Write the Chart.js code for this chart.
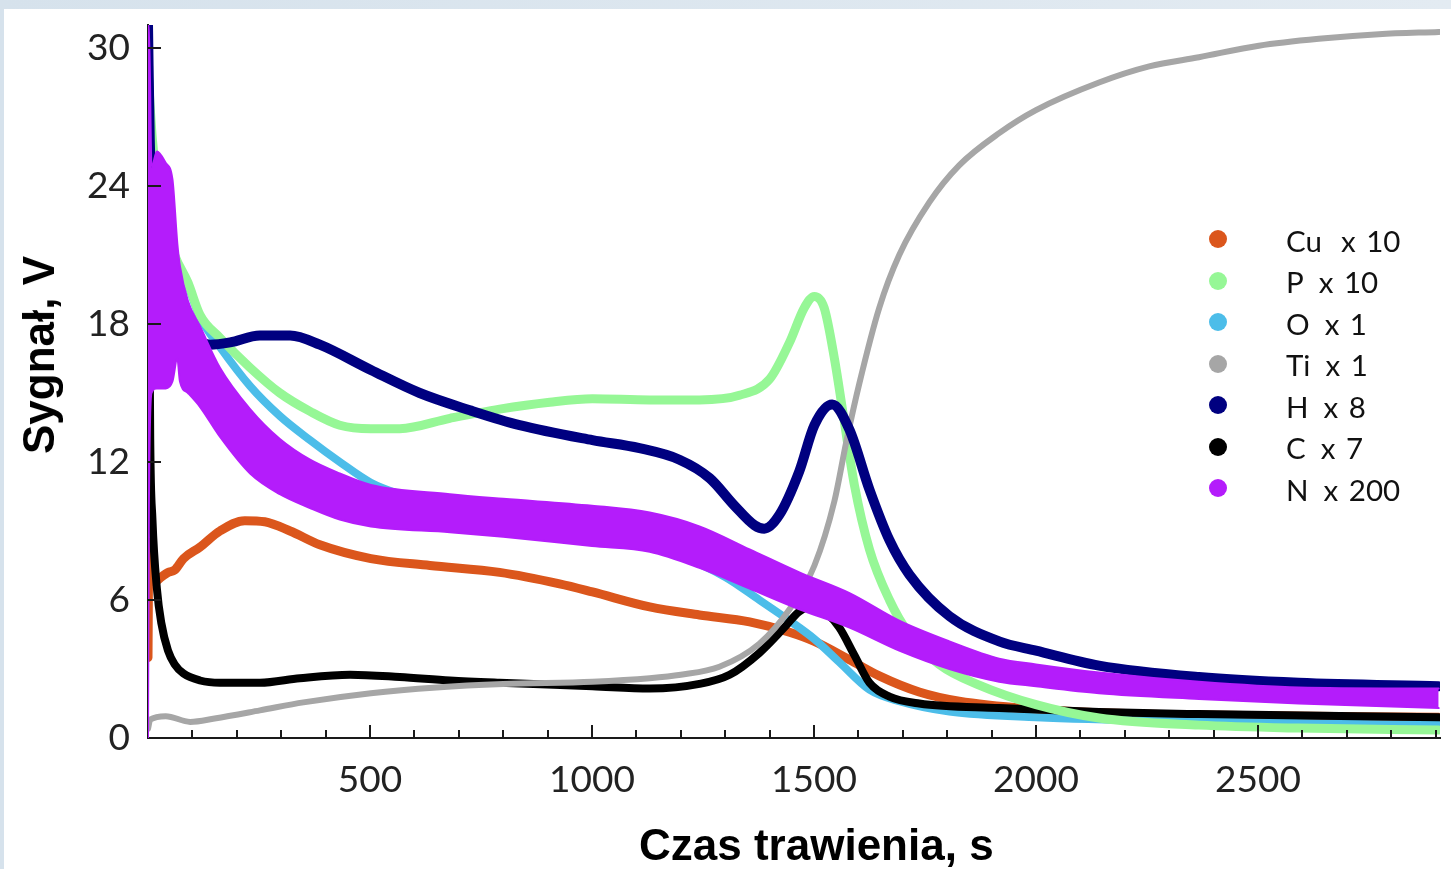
<!DOCTYPE html>
<html>
<head>
<meta charset="utf-8">
<script src="https://cdn.jsdelivr.net/npm/chart.js@4.4.1/dist/chart.umd.min.js"></script>
<style>
html,body{margin:0;padding:0;}
body{width:1451px;height:869px;position:relative;overflow:hidden;background:linear-gradient(90deg,#d6e2ec,#e3ebf2);font-family:Lato,sans-serif;}
#paper{position:absolute;left:4px;top:9px;right:0;bottom:0;background:#fff;}
#c{position:absolute;left:0;top:0;}
.ttl{position:absolute;font-family:"Liberation Sans",Arial,sans-serif;font-weight:bold;font-size:44px;line-height:44px;color:#000;white-space:nowrap;}
#xt{left:639px;top:823px;}
#yt{left:39px;top:355px;transform:translate(-50%,-50%) rotate(-90deg);}
.lg{position:absolute;font-family:Lato,sans-serif;font-size:29.5px;line-height:29px;color:#111;white-space:pre;}
.dot{position:absolute;width:18px;height:18px;border-radius:50%;}
</style>
</head>
<body>
<div id="paper"></div>
<canvas id="c" width="1451" height="869"></canvas>
<div class="ttl" id="xt">Czas trawienia, s</div>
<div class="ttl" id="yt">Sygnał, V</div>
<div id="legend"></div>
<script>
// ---- data ----
const xTicks = [500, 1000, 1500, 2000, 2500];
const yTicks = [0, 6, 12, 18, 24, 30];

const legendNames = ['Cu', 'P', 'O', 'Ti', 'H', 'C', 'N'];
const legendMults = ['x 10', 'x 10', 'x 1', 'x 1', 'x 8', 'x 7', 'x 200'];

const cuT = [0,2,5,15,30,45,60,80,117,162,218,263,320,387,502,635,792,927,1001,1130,1242,1355,1445,1501,1580,1647,1737,1827,2000,2142,2367,2907];
const cuV = [3.5,8.5,7,6.8,7,7.2,7.3,7.8,8.3,9,9.45,9.4,9,8.4,7.8,7.5,7.2,6.7,6.35,5.7,5.35,5.05,4.6,4.2,3.4,2.7,2.0,1.6,1.25,1.1,1.0,0.9];

const pT = [0,10,30,60,90,117,162,230,297,365,432,502,567,680,792,905,1001,1130,1242,1332,1400,1445,1478,1501,1523,1546,1568,1591,1625,1670,1715,1782,1872,2000,2142,2367,2592,2907];
const pV = [29,26,23,21,19.8,18.4,17.4,16.1,15.0,14.2,13.6,13.45,13.45,13.9,14.3,14.6,14.75,14.7,14.7,14.9,15.6,17.2,18.7,19.2,18.7,16.5,13.8,11.0,8.2,6.0,4.5,3.2,2.3,1.45,0.87,0.56,0.43,0.35];

const oT = [0,10,30,60,90,117,162,230,297,365,432,502,567,680,800,1000,1200,1300,1377,1445,1501,1557,1625,1692,1805,2000,2367,2907];
const oV = [30,25,23,21,19.7,18.3,17.0,15.3,14.0,12.95,12.0,11.1,10.6,10.0,9.6,9.0,7.9,7.0,6.0,5.1,4.3,3.3,2.1,1.6,1.15,0.9,0.72,0.56];

const tiT = [0,5,40,95,150,252,350,502,650,800,1001,1130,1200,1287,1377,1445,1501,1546,1573,1602,1647,1692,1760,1827,1917,2000,2142,2255,2367,2502,2637,2772,2907];
const tiV = [0.4,0.8,0.95,0.7,0.85,1.2,1.55,1.95,2.2,2.35,2.45,2.6,2.75,3.1,4.1,5.6,7.5,10.3,12.9,15.4,18.7,21.0,23.3,24.9,26.3,27.3,28.5,29.2,29.6,30.1,30.4,30.6,30.7];

const hT = [0,4,10,20,40,60,90,117,140,185,252,320,387,502,612,725,837,1001,1107,1197,1265,1321,1366,1388,1422,1467,1501,1541,1580,1625,1670,1715,1805,1917,2000,2142,2367,2592,2907];
const hV = [31,26,23.5,22.5,21.5,20,18.2,17.3,17.1,17.2,17.5,17.5,17.1,16.0,15.0,14.25,13.6,12.95,12.6,12.1,11.3,10.1,9.25,9.1,9.7,11.6,13.6,14.5,13.4,10.8,8.6,7.1,5.3,4.2,3.8,3.15,2.65,2.4,2.25];

const cT = [0,2,5,10,20,30,45,60,80,117,162,252,342,455,567,680,792,1001,1130,1242,1310,1377,1433,1467,1500,1530,1557,1591,1625,1670,1737,1917,2142,2367,2907];
const cV = [31,22,13,9.5,6.5,5.0,3.8,3.2,2.8,2.5,2.4,2.4,2.6,2.75,2.65,2.5,2.4,2.25,2.15,2.35,2.75,3.7,4.8,5.5,5.75,5.4,4.8,3.6,2.4,1.8,1.5,1.3,1.13,1.04,0.9];

const nT  = [0,2,8,20,40,55,66,72,90,117,162,230,297,365,432,502,680,800,1000,1130,1242,1355,1467,1580,1692,1805,1917,2000,2142,2367,2592,2907];
const nHi = [31,31,24.8,25.5,25,24.3,21.5,20.5,19,17.9,16.1,14.3,13.0,12.1,11.5,11.0,10.6,10.4,10.1,9.8,9.2,8.2,7.2,6.3,5.1,4.2,3.45,3.2,2.85,2.45,2.2,2.15];
const nLo = [0,10,15,15.2,15.2,15.5,16.5,15.5,15,14.4,13.1,11.5,10.6,10.0,9.5,9.2,8.95,8.75,8.35,8.1,7.4,6.5,5.6,4.8,3.8,3.0,2.45,2.25,1.95,1.7,1.5,1.3];

// ---- styles ----
const COL = {Cu:'#db561c', P:'#96f796', O:'#4cbde9', Ti:'#a6a6a6', H:'#000080', C:'#000000', N:'#b41cfb'};
const legendColors = [COL.Cu, COL.P, COL.O, COL.Ti, COL.H, COL.C, COL.N];

const zip = (t, v) => t.map((x, i) => ({x: x, y: v[i]}));

const datasets = [
  {label:'Cu', data:zip(cuT,cuV), borderColor:COL.Cu, borderWidth:9, order:7},
  {label:'O',  data:zip(oT,oV),  borderColor:COL.O,  borderWidth:8, order:6},
  {label:'C',  data:zip(cT,cV),  borderColor:COL.C,  borderWidth:8, order:5},
  {label:'P',  data:zip(pT,pV),  borderColor:COL.P,  borderWidth:9, order:4},
  {label:'Ti', data:zip(tiT,tiV), borderColor:COL.Ti, borderWidth:6, order:3},
  {label:'H',  data:zip(hT,hV),  borderColor:COL.H,  borderWidth:10, order:2},
  {label:'N',  data:zip(nT,nHi), borderColor:COL.N,  borderWidth:2, order:1, fill:false},
  {label:'N_lo', data:zip(nT,nLo), borderColor:COL.N, borderWidth:2, order:1, fill:'-1', backgroundColor:COL.N}
];

const inwardTicks = {
  id: 'inwardTicks',
  afterDraw(chart) {
    const {ctx, scales: {x, y}, chartArea: a} = chart;
    ctx.save();
    ctx.strokeStyle = '#1a1a1a';
    ctx.lineWidth = 2;
    for (let v = 100; v <= 2900; v += 100) {
      const px = Math.round(x.getPixelForValue(v));
      const len = (v % 500 === 0) ? 13 : 8;
      ctx.beginPath(); ctx.moveTo(px, a.bottom); ctx.lineTo(px, a.bottom - len); ctx.stroke();
    }
    yTicks.forEach(v => {
      if (v === 0) return;
      const py = Math.round(y.getPixelForValue(v));
      ctx.beginPath(); ctx.moveTo(a.left, py); ctx.lineTo(a.left + 13, py); ctx.stroke();
    });
    ctx.restore();
  }
};

new Chart(document.getElementById('c').getContext('2d'), {
  type: 'line',
  data: {datasets},
  options: {
    responsive: false,
    animation: false,
    layout: {padding: {left: 0, top: 25, right: 11, bottom: 0}},
    plugins: {legend: {display: false}, tooltip: {enabled: false}},
    elements: {
      point: {radius: 0, hoverRadius: 0},
      line: {cubicInterpolationMode: 'monotone', borderCapStyle: 'round', borderJoinStyle: 'round', fill: false}
    },
    scales: {
      x: {
        type: 'linear', min: 0, max: 2910,
        afterFit: s => { s.height = 131; s.paddingLeft = 0; s.paddingRight = 0; },
        afterBuildTicks: s => { s.ticks = xTicks.map(v => ({value: v})); },
        grid: {display: false, drawTicks: false},
        border: {display: true, color: '#1a1a1a', width: 2},
        ticks: {font: {family: 'Lato', size: 37}, color: '#222', padding: 20, maxRotation: 0, autoSkip: false, callback: v => String(v)}
      },
      y: {
        type: 'linear', min: 0, max: 31,
        afterFit: s => { s.width = 148; s.paddingTop = 0; s.paddingBottom = 0; },
        afterBuildTicks: s => { s.ticks = yTicks.map(v => ({value: v})); },
        grid: {display: false, drawTicks: false},
        border: {display: true, color: '#1a1a1a', width: 2},
        ticks: {font: {family: 'Lato', size: 37}, color: '#222', padding: 18, autoSkip: false, callback: v => String(v)}
      }
    }
  },
  plugins: [inwardTicks]
});

// ---- legend (HTML text) ----
const lg = document.getElementById('legend');
legendNames.forEach((name, i) => {
  const cy = 239 + i * 41.55;
  const d = document.createElement('div');
  d.className = 'dot';
  d.style.left = (1218 - 9) + 'px';
  d.style.top = (cy - 9) + 'px';
  d.style.background = legendColors[i];
  lg.appendChild(d);
  const t = document.createElement('div');
  t.className = 'lg';
  t.style.left = '1286px';
  t.style.top = (cy + 2 - 15.3) + 'px';
  t.innerHTML = '<span>' + name + '</span><span style="margin-left:' + (name === 'Cu' ? 19 : 15) + 'px;word-spacing:3px">' + legendMults[i] + '</span>';
  lg.appendChild(t);
});
</script>
</body>
</html>
